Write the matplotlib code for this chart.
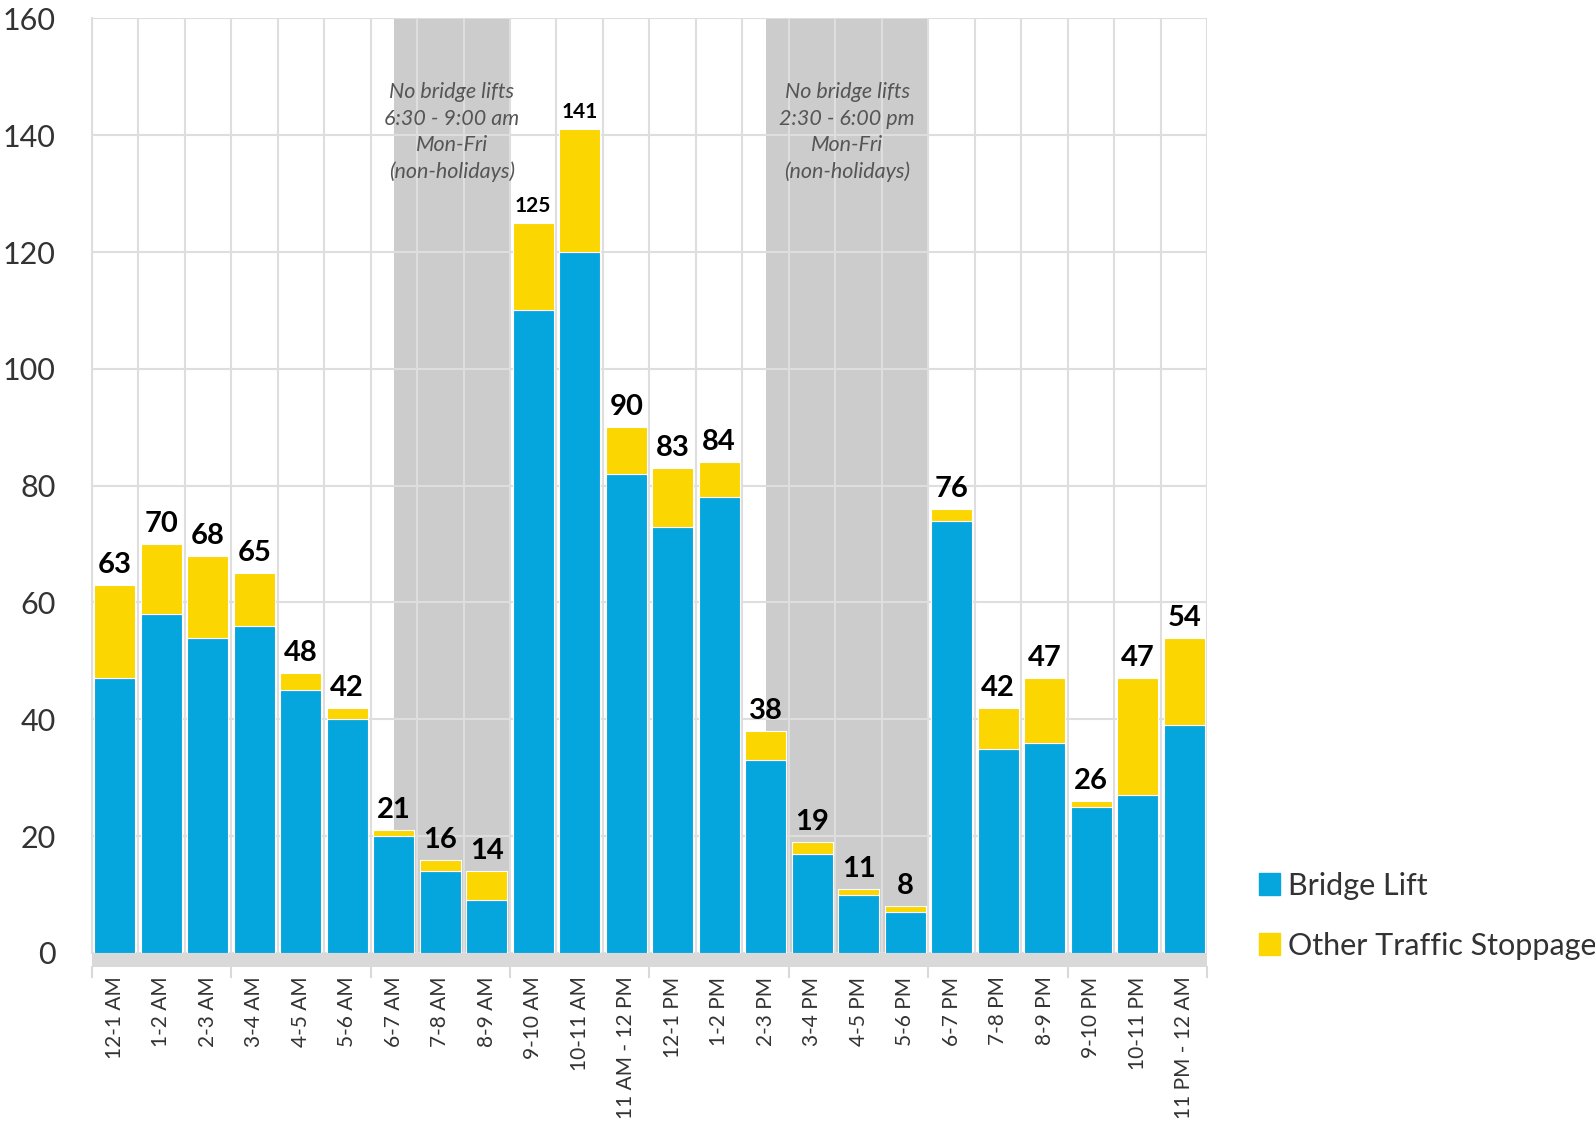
import matplotlib.pyplot as plt
from matplotlib.patches import Patch, Rectangle
import matplotlib.transforms as mtransforms
import numpy as np

plt.rcParams['font.family'] = ['Lato', 'DejaVu Sans']

# hourly counts
hours = ['12-1 AM', '1-2 AM', '2-3 AM', '3-4 AM', '4-5 AM', '5-6 AM',
         '6-7 AM', '7-8 AM', '8-9 AM', '9-10 AM', '10-11 AM', '11 AM - 12 PM',
         '12-1 PM', '1-2 PM', '2-3 PM', '3-4 PM', '4-5 PM', '5-6 PM',
         '6-7 PM', '7-8 PM', '8-9 PM', '9-10 PM', '10-11 PM', '11 PM - 12 AM']
bridge_lift = [47, 58, 54, 56, 45, 40, 20, 14, 9, 110, 120, 82,
               73, 78, 33, 17, 10, 7, 74, 35, 36, 25, 27, 39]
other_stop = [16, 12, 14, 9, 3, 2, 1, 2, 5, 15, 21, 8,
              10, 6, 5, 2, 1, 1, 2, 7, 11, 1, 20, 15]

# no-lift windows, in hours of the day
no_lift = [(6.5, 9.0, 'No bridge lifts\n6:30 - 9:00 am\nMon-Fri\n(non-holidays)'),
           (14.5, 18.0, 'No bridge lifts\n2:30 - 6:00 pm\nMon-Fri\n(non-holidays)')]

blue = '#05a5de'
yellow = '#fbd600'
grid_c = '#dedede'
txt = '#333333'

fig = plt.figure(figsize=(15.95, 11.25), dpi=100)
ax = fig.add_axes([0.0574, 0.1529, 0.6996, 0.8308])

x = np.arange(len(hours))
totals = [b + o for b, o in zip(bridge_lift, other_stop)]

for start, end, label in no_lift:
    ax.axvspan(start - 0.5, end - 0.5, color='#cccccc', zorder=0.2, lw=0)
    ax.text((start + end) / 2 - 0.5, 140.5, label, ha='center', va='center',
            fontsize=15.5, style='italic', color='#555555', linespacing=1.4)

ax.bar(x, bridge_lift, width=0.88, color=blue, edgecolor='white', linewidth=0.8,
       zorder=2, label='Bridge Lift')
ax.bar(x, other_stop, bottom=bridge_lift, width=0.88, color=yellow,
       edgecolor='white', linewidth=0.8, zorder=2, label='Other Traffic Stoppage')

for i, t in enumerate(totals):
    fs = 15 if t > 100 else 21
    ax.text(i, t + 1.2, str(t), ha='center', va='bottom', fontsize=fs,
            fontweight='bold', color='black')

ax.set_xlim(-0.5, len(hours) - 0.5)
ax.set_ylim(0, 160)
ax.set_yticks(range(0, 161, 20))
ax.set_xticks(x)
ax.set_xticklabels(hours, rotation=90, fontsize=15, color=txt)
ax.tick_params(axis='x', length=0, pad=17)
ax.tick_params(axis='y', length=0, pad=26, labelsize=22, labelcolor=txt)

# grid at category boundaries
ax.set_xticks(np.arange(-0.5, len(hours), 1), minor=True)
ax.tick_params(axis='x', which='minor', length=0)
ax.grid(axis='y', color=grid_c, lw=1.5)
ax.grid(axis='x', which='minor', color=grid_c, lw=1.5)
ax.set_axisbelow(True)

for s in ['top', 'right', 'bottom']:
    ax.spines[s].set_visible(False)
ax.spines['left'].set_color(grid_c)
ax.spines['left'].set_linewidth(1.5)

# gray base band under the bars, with ticks every 3 hours
trans = mtransforms.blended_transform_factory(ax.transData, ax.transAxes)
ax.add_patch(Rectangle((-0.5, -0.0155), len(hours), 0.0155, transform=trans,
                       color='#d9d9d9', clip_on=False, zorder=3, lw=0))
for b in np.arange(-0.5, len(hours), 3):
    ax.plot([b, b], [-0.0155, -0.026], transform=trans, color='#d9d9d9',
            lw=1.5, clip_on=False)

handles = [Patch(color=blue), Patch(color=yellow)]
fig.legend(handles, ['Bridge Lift', 'Other Traffic Stoppage'], loc='center left',
           bbox_to_anchor=(0.772, 0.186), frameon=False, fontsize=22,
           handlelength=0.7, handleheight=0.7, handletextpad=0.25,
           labelspacing=1.05, labelcolor=txt)

fig.savefig('out.png', dpi=100)
